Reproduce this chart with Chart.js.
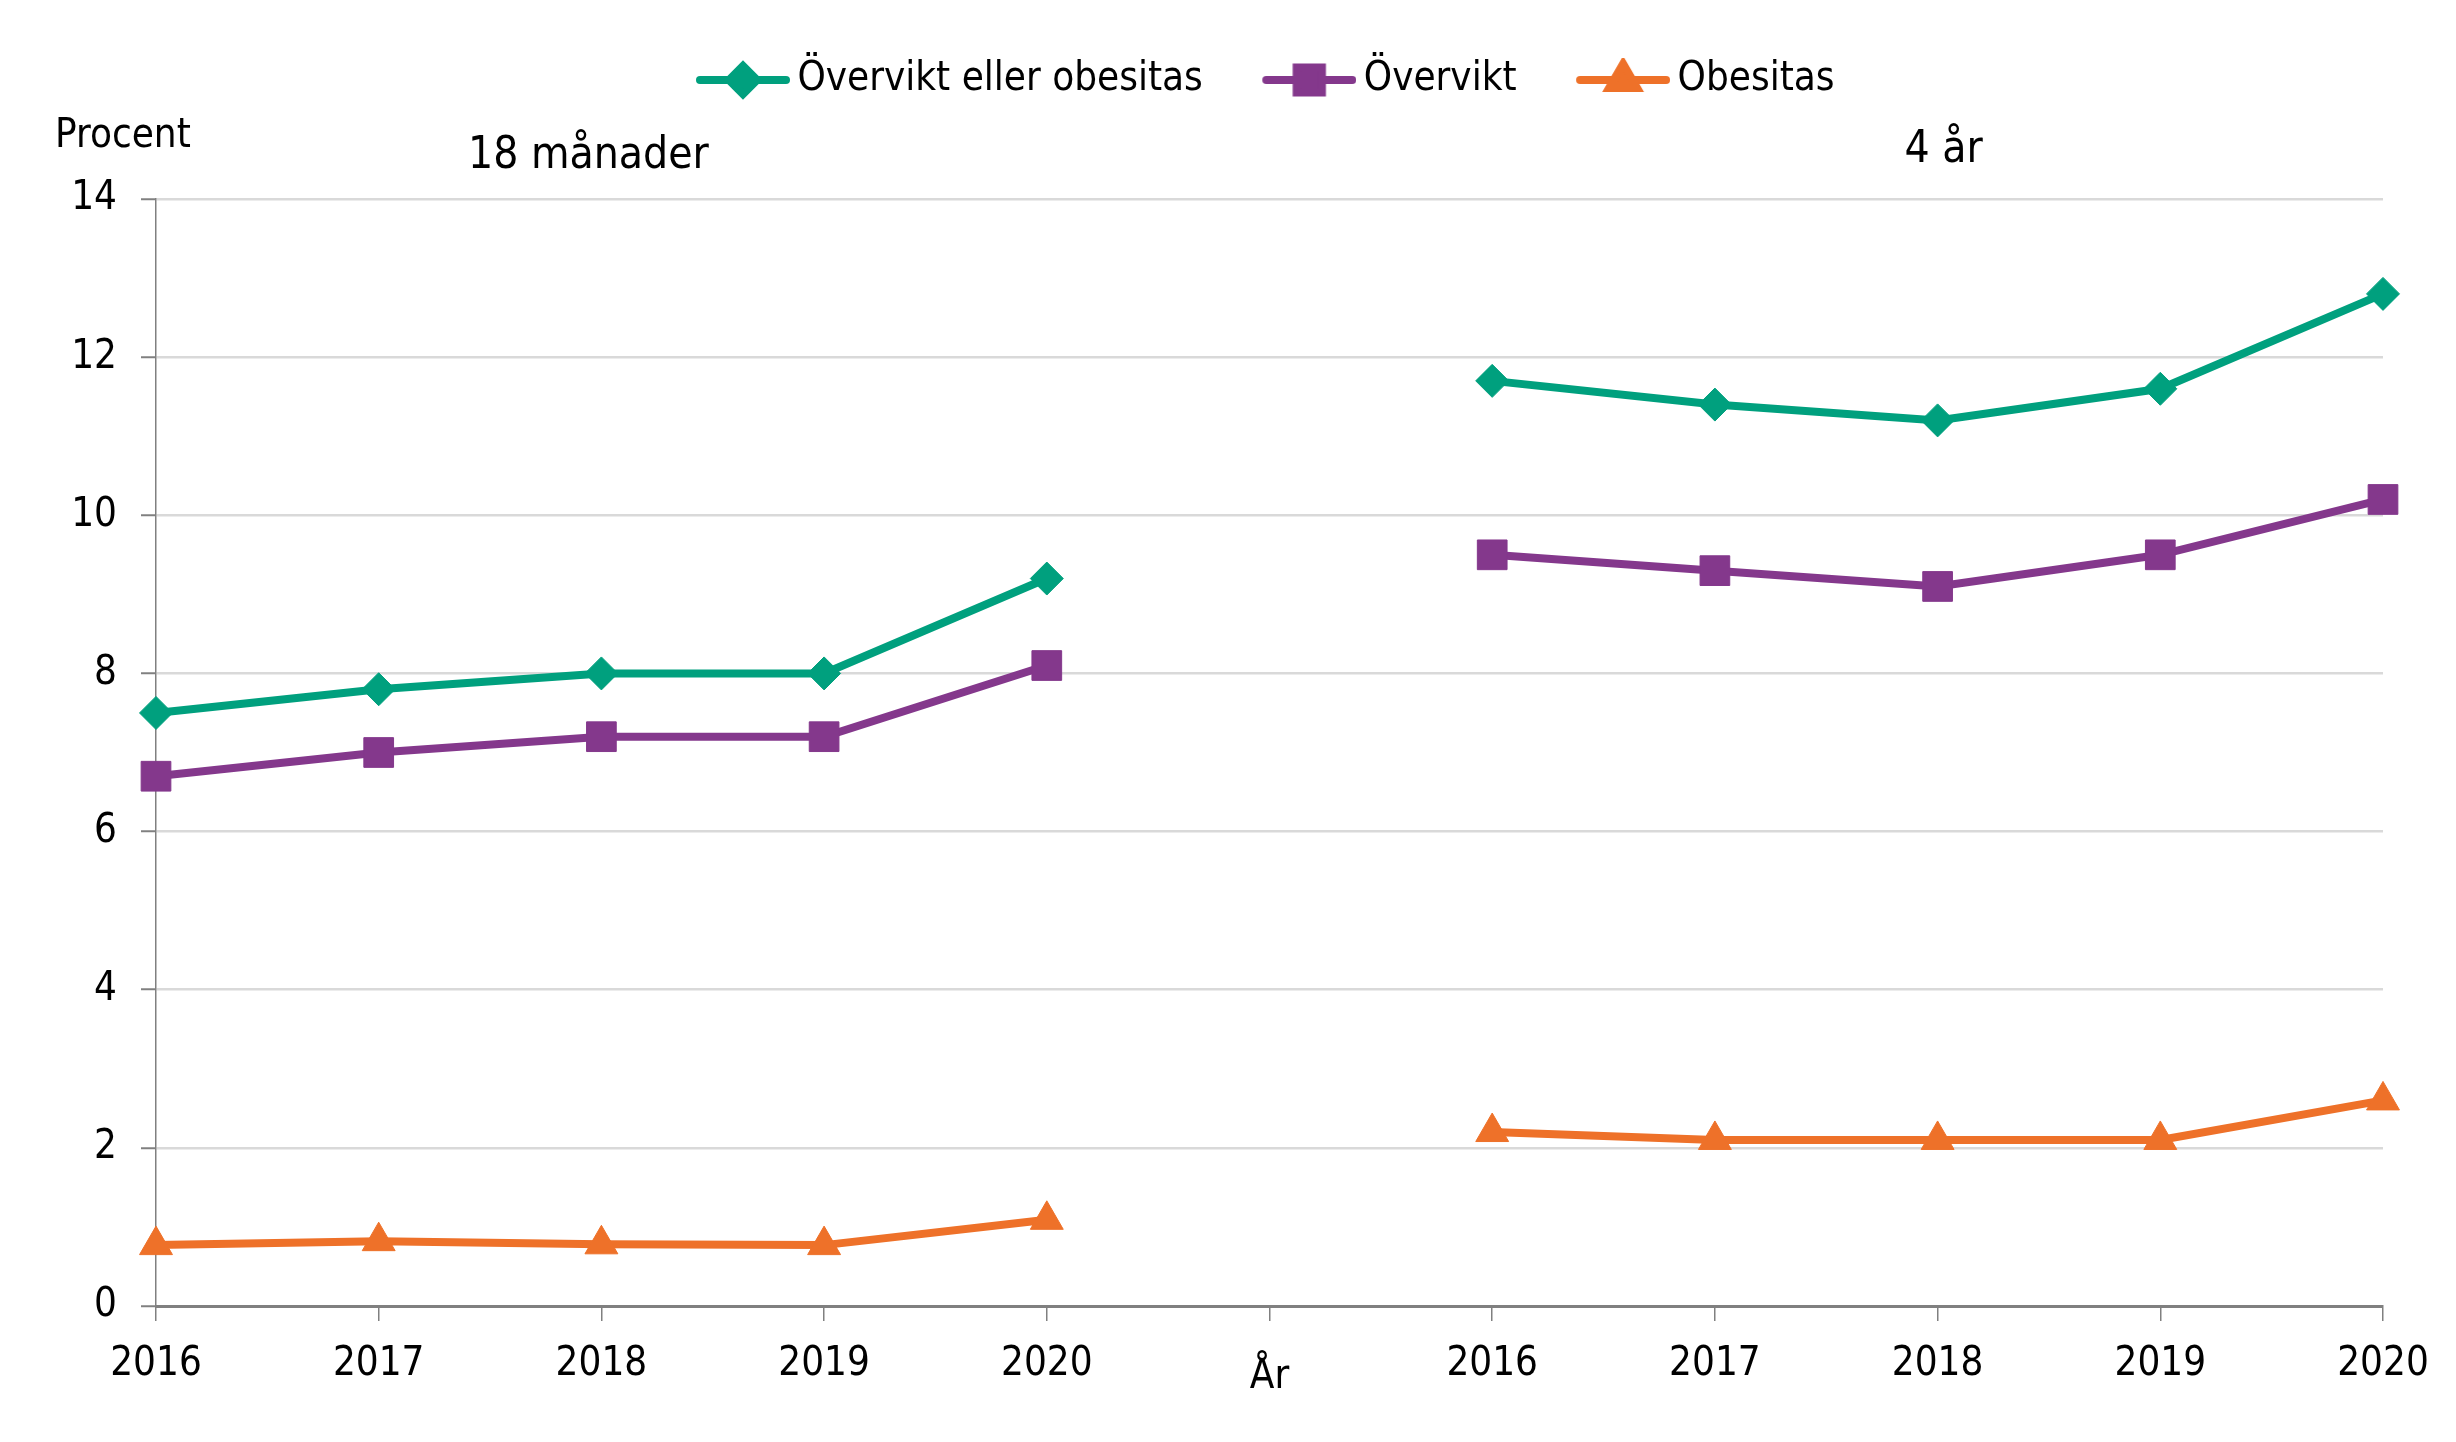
<!DOCTYPE html>
<html>
<head>
<meta charset="utf-8">
<script src="https://cdn.jsdelivr.net/npm/chart.js@4.4.1/dist/chart.umd.min.js"></script>
<style>
  html, body { margin: 0; padding: 0; background: #fff; }
  #wrap { width: 2456px; height: 1442px; }
</style>
</head>
<body>
<div id="wrap"><canvas id="lineChart"></canvas></div>
<script>
const FONT = "'DejaVu Sans Condensed', 'DejaVu Sans', sans-serif";

// x categories: two age groups with a separator category between them
const years = ['2016', '2017', '2018', '2019', '2020'];
const separator = 'År';
const groupTitles = ['18 månader', '4 år'];

// percent, 18 months
const ovEllerOb18m = [7.5, 7.8, 8.0, 8.0, 9.2];
const overvikt18m = [6.7, 7.0, 7.2, 7.2, 8.1];
const obesitas18m = [0.77, 0.82, 0.78, 0.77, 1.09];

// percent, 4 years
const ovEllerOb4y = [11.7, 11.4, 11.2, 11.6, 12.8];
const overvikt4y = [9.5, 9.3, 9.1, 9.5, 10.2];
const obesitas4y = [2.2, 2.1, 2.1, 2.1, 2.6];

const seriesNames = ['Övervikt eller obesitas', 'Övervikt', 'Obesitas'];
const seriesColors = ['#00A07E', '#84388C', '#EE7129'];
const seriesStyles = ['rectRot', 'rect', 'triangle'];
const seriesRadius = [16.5, 21, 19];

const labels = [...years, separator, ...years];
const join = (a, b) => [...a, null, ...b];
const seriesData = [
  join(ovEllerOb18m, ovEllerOb4y),
  join(overvikt18m, overvikt4y),
  join(obesitas18m, obesitas4y)
];

// legend symbol: line with the marker in the middle
function legendSymbol(i) {
  const c = document.createElement('canvas');
  c.width = 106; c.height = 44;
  const g = c.getContext('2d');
  g.strokeStyle = seriesColors[i];
  g.lineWidth = 8;
  g.lineCap = 'round';
  g.beginPath();
  g.moveTo(16, 22); g.lineTo(102, 22);
  g.stroke();
  g.fillStyle = seriesColors[i];
  g.strokeStyle = seriesColors[i];
  Chart.helpers.drawPoint(g, {pointStyle: seriesStyles[i], radius: seriesRadius[i] * 0.85, rotation: 0, borderWidth: 1}, 59, 22);
  return c;
}
const legendSymbols = seriesNames.map((n, i) => legendSymbol(i));

const groupLabels = {
  id: 'groupLabels',
  afterDraw(chart) {
    const {ctx, chartArea, scales} = chart;
    ctx.save();
    ctx.font = '44px ' + FONT;
    ctx.fillStyle = '#000';
    ctx.textAlign = 'center';
    ctx.textBaseline = 'alphabetic';
    ctx.fillText(groupTitles[0], scales.x.getPixelForValue(2) - 13, chartArea.top - 31);
    ctx.fillText(groupTitles[1], scales.x.getPixelForValue(8) + 6, chartArea.top - 37);
    ctx.restore();
  }
};

const ctx = document.getElementById('lineChart').getContext('2d');

const myChart = new Chart(ctx, {
  type: 'line',
  data: {
    labels: labels,
    datasets: seriesNames.map((name, i) => ({
      label: name,
      data: seriesData[i],
      borderColor: seriesColors[i],
      backgroundColor: seriesColors[i],
      borderWidth: 8,
      pointStyle: seriesStyles[i],
      pointRadius: seriesRadius[i],
      pointBorderWidth: 1,
      pointBackgroundColor: seriesColors[i],
      pointBorderColor: seriesColors[i],
      spanGaps: false,
      tension: 0,
      clip: false
    }))
  },
  options: {
    responsive: true,
    maintainAspectRatio: false,
    devicePixelRatio: 1,
    animation: false,
    layout: { padding: { left: 55, right: -20, top: 0, bottom: 0 } },
    plugins: {
      legend: {
        position: 'top',
        labels: {
          usePointStyle: true,
          pointStyleWidth: 81,
          padding: 60,
          color: '#000',
          font: { size: 40, family: FONT },
          generateLabels(chart) {
            const items = Chart.defaults.plugins.legend.labels.generateLabels(chart);
            items.forEach((it, i) => { it.pointStyle = legendSymbols[i]; });
            return items;
          }
        }
      },
      title: {
        display: true,
        text: 'Procent',
        align: 'start',
        position: 'top',
        weight: 500,
        color: '#000',
        font: { size: 40, family: FONT, weight: 'normal' },
        padding: { top: 3, bottom: 38 }
      },
      tooltip: { enabled: false }
    },
    scales: {
      x: {
        offset: false,
        grid: {
          drawOnChartArea: false,
          drawTicks: true,
          tickLength: 15,
          color: '#808080',
          tickColor: '#808080',
          lineWidth: 1.5
        },
        border: { color: '#808080', width: 3 },
        ticks: {
          autoSkip: false,
          maxRotation: 0,
          padding: 20,
          color: '#000',
          // the separator label sits a little lower than the years
          font: (c) => ({ size: 40, family: FONT, lineHeight: c.tick && c.tick.label === separator ? 1.85 : 1.2 })
        },
        afterFit(scale) {
          scale.height = 136;
          scale.paddingRight = 73;
        }
      },
      y: {
        min: 0,
        max: 14,
        ticks: {
          stepSize: 2,
          padding: 24,
          color: '#000',
          font: { size: 40, family: FONT }
        },
        grid: {
          color: '#D9D9D9',
          lineWidth: 2.5,
          tickColor: '#808080',
          tickLength: 15,
          tickWidth: 2
        },
        border: { color: '#808080', width: 1.5 },
        afterFit(scale) {
          scale.width = 101;
        }
      }
    }
  },
  plugins: [groupLabels]
});
</script>
</body>
</html>
